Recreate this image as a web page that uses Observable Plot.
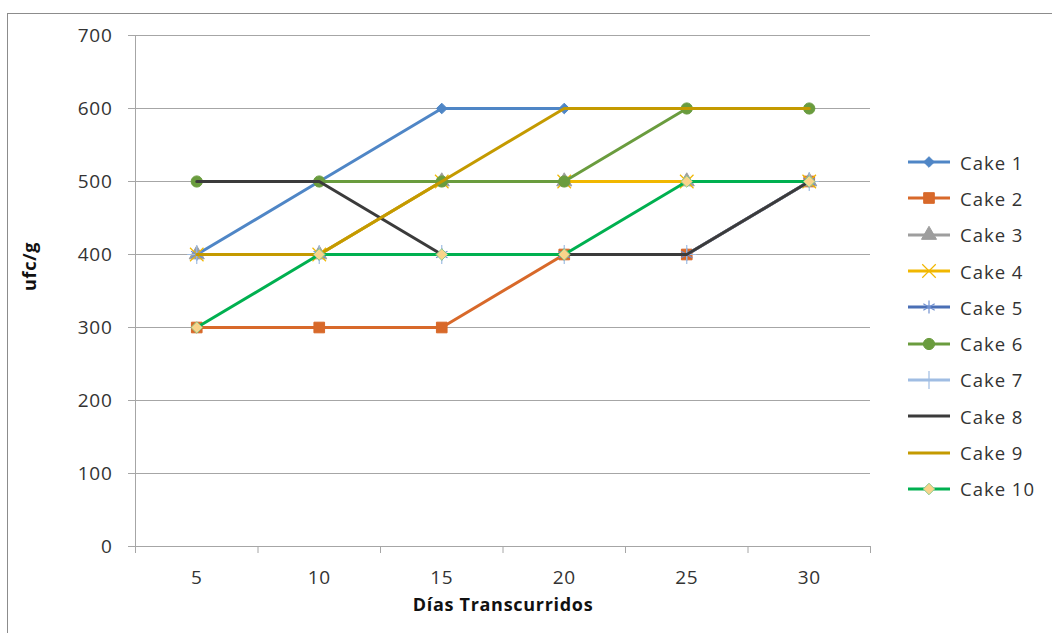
<!DOCTYPE html>
<html>
<head>
<meta charset="utf-8">
<script src="https://cdn.jsdelivr.net/npm/d3@7"></script>
<script src="https://cdn.jsdelivr.net/npm/@observablehq/plot@0.6"></script>
<style>
  html, body { margin: 0; padding: 0; background: #fff; overflow: hidden; }
  #wrap { position: relative; width: 1052px; height: 633px; font-family: "Open Sans", sans-serif; }
  #border { position: absolute; left: 7px; top: 13px; width: 1100px; height: 700px; border-left: 1px solid #8c8c8c; border-top: 1px solid #8c8c8c; }
  #chart { position: absolute; left: 0; top: 0; }
  #chart text { letter-spacing: 0.7px; }
  #legend { position: absolute; left: 900px; top: 144px; }
  .lg-row { display: flex; align-items: center; height: 36.3px; font-size: 18.5px; color: #333; letter-spacing: 1px; }
  .lg-row svg { margin-right: 10px; }
</style>
</head>
<body>
<div id="wrap">
  <div id="border"></div>
  <div id="chart"></div>
  <div id="legend"></div>
</div>
<script>
// ---- data ----
const days = [5, 10, 15, 20, 25, 30];
const yTicks = [0, 100, 200, 300, 400, 500, 600, 700];
const seriesNames = ["Cake 1", "Cake 2", "Cake 3", "Cake 4", "Cake 5", "Cake 6", "Cake 7", "Cake 8", "Cake 9", "Cake 10"];
const cake1 = [400, 500, 600, 600, 600, 600];
const cake2 = [300, 300, 300, 400, 400, 500];
const cake3 = [400, 400, 500, 500, 500, 500];
const cake4 = [400, 400, 500, 500, 500, 500];
const cake5 = [400, 400, 400, 400, 400, 500];
const cake6 = [500, 500, 500, 500, 600, 600];
const cake7 = [400, 400, 400, 400, 400, 500];
const cake8 = [500, 500, 400, 400, 400, 500];
const cake9 = [400, 400, 500, 600, 600, 600];
const cake10 = [300, 400, 400, 400, 500, 500];
const xLabel = "Días Transcurridos";
const yLabel = "ufc/g";

// ---- styles ----
const styles = [
  {color: "#4F86C6", symbol: "diamond2", r: 4.8, fill: "#4F86C6", stroke: "#4F86C6"},
  {color: "#D8692A", symbol: "square", r: 6, fill: "#D8692A", stroke: "#D8692A"},
  {color: "#9E9E9E", symbol: "triangle", r: 5.6, fill: "#9E9E9E", stroke: "#9E9E9E"},
  {color: "#F1B700", symbol: "times", r: 6.2, fill: "none", stroke: "#F1B700"},
  {color: "#4A6FB5", symbol: "asterisk", r: 6.2, fill: "none", stroke: "#6F8FCF"},
  {color: "#6A9C3E", symbol: "circle", r: 5.6, fill: "#6A9C3E", stroke: "#6A9C3E"},
  {color: "#A0BDE3", symbol: "plus", r: 6.2, fill: "none", stroke: "#A0BDE3"},
  {color: "#3B3B3B", symbol: null},
  {color: "#C49A00", symbol: null},
  {color: "#00B050", symbol: "diamond2", r: 5.2, fill: "#F9D48B", stroke: "#8CCB8C"}
];

const allValues = [cake1, cake2, cake3, cake4, cake5, cake6, cake7, cake8, cake9, cake10];
const series = allValues.map((vals, i) => ({
  name: seriesNames[i],
  rows: days.map((d, j) => ({day: d, value: vals[j]})),
  ...styles[i]
}));

const step = days[1] - days[0];
const bounds = [days[0] - step / 2, ...days.map(d => d + step / 2)];

const marks = [
  Plot.gridY(yTicks, {y: d => d, stroke: "#A6A6A6", strokeOpacity: 1}),
  Plot.ruleY([0], {stroke: "#A6A6A6"}),
  Plot.ruleX([bounds[0]], {stroke: "#A6A6A6"}),
  Plot.axisY({ticks: yTicks, tickSize: 7, tickPadding: 16, stroke: "#A6A6A6", fill: "#333", fontSize: 19, label: null}),
  Plot.axisX({ticks: bounds, tickSize: 7, tickFormat: () => "", stroke: "#A6A6A6", label: null}),
  Plot.axisX({ticks: days, tickSize: 0, tickPadding: 24, fill: "#333", fontSize: 19, label: null})
];

for (const s of series) {
  marks.push(Plot.line(s.rows, {x: "day", y: "value", stroke: s.color, strokeWidth: 3}));
  if (s.symbol) {
    marks.push(Plot.dot(s.rows, {x: "day", y: "value", symbol: () => s.symbol, r: s.r, fill: s.fill, stroke: s.stroke, strokeWidth: s.fill === "none" ? 1.2 : 1}));
  }
}

marks.push(Plot.text([xLabel], {text: d => d, frameAnchor: "bottom", dy: 64, fontWeight: "bold", fontSize: 18, fill: "#111"}));
marks.push(Plot.text([yLabel], {text: d => d, frameAnchor: "left", dx: -105, rotate: -90, fontWeight: "bold", fontSize: 18, fill: "#111"}));

const chart = Plot.plot({
  width: 1052,
  height: 633,
  marginLeft: 135,
  marginRight: 182,
  marginTop: 35,
  marginBottom: 87,
  style: {fontFamily: "Open Sans", background: "transparent", color: "#333"},
  x: {type: "linear", domain: [bounds[0], bounds[bounds.length - 1]]},
  y: {domain: [0, 700]},
  symbol: {type: "identity"},
  marks
});
document.getElementById("chart").appendChild(chart);

// ---- legend ----
const legend = d3.select("#legend");
const symMap = {diamond2: d3.symbolDiamond2, square: d3.symbolSquare, triangle: d3.symbolTriangle, times: d3.symbolTimes, asterisk: d3.symbolAsterisk, circle: d3.symbolCircle, plus: d3.symbolPlus};
for (const s of series) {
  const row = legend.append("div").attr("class", "lg-row");
  const svg = row.append("svg").attr("width", 50).attr("height", 18);
  svg.append("line").attr("x1", 8).attr("x2", 50).attr("y1", 9).attr("y2", 9).attr("stroke", s.color).attr("stroke-width", 3);
  if (s.symbol) {
    svg.append("path")
      .attr("transform", "translate(29,9)")
      .attr("d", d3.symbol(symMap[s.symbol], s.r * s.r * Math.PI)())
      .attr("fill", s.fill).attr("stroke", s.stroke).attr("stroke-width", s.fill === "none" ? 1.2 : 1);
  }
  row.append("span").text(s.name);
}
</script>
</body>
</html>
